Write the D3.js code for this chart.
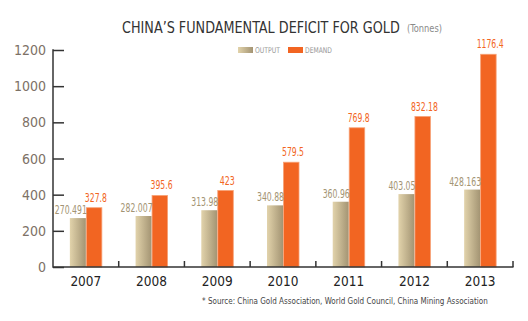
<!DOCTYPE html>
<html><head><meta charset="utf-8">
<script src="https://cdn.jsdelivr.net/npm/d3@7"></script>
<style>
html,body{margin:0;padding:0;background:#fff;}
svg text{font-family:"DejaVu Sans Condensed","Liberation Sans Narrow","Roboto",sans-serif;font-stretch:condensed;}
</style></head>
<body><svg id="c" width="528" height="321"></svg>
<script>
const years = ["2007","2008","2009","2010","2011","2012","2013"];
const output = [270.491, 282.007, 313.98, 340.88, 360.96, 403.05, 428.163];
const demand = [327.8, 395.6, 423, 579.5, 769.8, 832.18, 1176.4];
const outputLabels = ["270.491","282.007","313.98","340.88","360.96","403.05","428.163"];
const demandLabels = ["327.8","395.6","423","579.5","769.8","832.18","1176.4"];
const yTicks = [0,200,400,600,800,1000,1200];

const svg = d3.select("#c");
const x = d3.scaleBand().domain(years).range([53,513]).padding(0);
const y = d3.scaleLinear().domain([0,1200]).range([267,50]);
const bw = 16;
const lblLen = s => s.replace(/\./g,"").length*5 + (s.includes(".")?2:0);

const defs = svg.append("defs");
const g1 = defs.append("linearGradient").attr("id","gOut").attr("x1","0").attr("x2","1").attr("y1","0").attr("y2","0");
g1.append("stop").attr("offset","0").attr("stop-color","#e2d3ab");
g1.append("stop").attr("offset","1").attr("stop-color","#a39473");

// helper: place text scaled horizontally to a given width
function fitText(parent, x0, y0, width, txt, size, fill, weight){
  const g = parent.append("g");
  const t = g.append("text").attr("x",0).attr("y",0).attr("fill",fill)
    .style("font-size",size+"px").style("font-weight",weight||"normal").text(txt);
  const w = t.node().getComputedTextLength();
  g.attr("transform",`translate(${x0},${y0}) scale(${width/w},1)`);
  return g;
}

// title
fitText(svg,122,32.5,278,"CHINA\u2019S FUNDAMENTAL DEFICIT FOR GOLD",16.5,"#333","500");
fitText(svg,407,32,35,"(Tonnes)",10.5,"#8a8a8a");

// legend
svg.append("rect").attr("x",238).attr("y",47).attr("width",15).attr("height",6).attr("fill","url(#gOut)");
fitText(svg,255,53,25,"OUTPUT",8,"#999");
svg.append("rect").attr("x",288).attr("y",47).attr("width",15).attr("height",6).attr("fill","#f26522");
fitText(svg,305,53,27,"DEMAND",8,"#999");

// y axis
const ya = svg.append("g").attr("transform","translate(53,0)")
  .call(d3.axisRight(y).tickValues(yTicks).tickSize(11).tickFormat(""));
ya.select(".domain").remove();
ya.selectAll(".tick line").attr("stroke","#333").attr("stroke-width",1.5);
svg.append("line").attr("x1",53).attr("x2",53).attr("y1",49.3).attr("y2",267.7).attr("stroke","#333").attr("stroke-width",1.5);
svg.append("g").selectAll("text").data(yTicks).join("text")
  .attr("x",46).attr("y",d=>y(d)+5).attr("text-anchor","end")
  .attr("fill","#7d7166").style("font-size","14px").text(d=>d);

// bars
const bars = svg.append("g");
bars.selectAll("rect.o").data(years).join("rect").attr("class","o")
  .attr("x",(d)=>x(d)+x.bandwidth()/2-bw).attr("width",bw)
  .attr("y",(d,i)=>y(output[i])).attr("height",(d,i)=>y(0)-y(output[i]))
  .attr("fill","url(#gOut)");
bars.selectAll("rect.d").data(years).join("rect").attr("class","d")
  .attr("x",(d)=>x(d)+x.bandwidth()/2+0.5).attr("width",bw-0.5)
  .attr("y",(d,i)=>y(demand[i])).attr("height",(d,i)=>y(0)-y(demand[i]))
  .attr("fill","#f26522").attr("stroke","#f7a176").attr("stroke-width",0.8);

// labels
svg.append("g").selectAll("text").data(years).join("text")
  .attr("x",d=>x(d)+x.bandwidth()/2+1).attr("y",(d,i)=>y(output[i])-4)
  .attr("text-anchor","end").attr("fill","#a39473").style("font-size","11.5px")
  .attr("textLength",(d,i)=>lblLen(outputLabels[i])).attr("lengthAdjust","spacingAndGlyphs")
  .text((d,i)=>outputLabels[i]);
svg.append("g").selectAll("text").data(years).join("text")
  .attr("x",d=>x(d)+x.bandwidth()/2+bw/2+2).attr("y",(d,i)=>y(demand[i])-6)
  .attr("text-anchor","middle").attr("fill","#f26522").style("font-size","11.5px")
  .attr("textLength",(d,i)=>lblLen(demandLabels[i])).attr("lengthAdjust","spacingAndGlyphs")
  .text((d,i)=>demandLabels[i]);

// x axis
svg.append("line").attr("x1",53).attr("x2",513.5).attr("y1",267).attr("y2",267).attr("stroke","#333").attr("stroke-width",1.5);
svg.append("g").selectAll("line").data(years).join("line")
  .attr("x1",d=>x(d)+x.bandwidth()).attr("x2",d=>x(d)+x.bandwidth())
  .attr("y1",267).attr("y2",261).attr("stroke","#333").attr("stroke-width",1.5);
svg.append("g").selectAll("text").data(years).join("text")
  .attr("x",d=>x(d)+x.bandwidth()/2).attr("y",285.5).attr("text-anchor","middle")
  .attr("fill","#222").style("font-size","13.5px").style("font-weight","500").text(d=>d);

// source
fitText(svg,202,304,286,"* Source: China Gold Association, World Gold Council, China Mining Association",9,"#444");
</script></body></html>
